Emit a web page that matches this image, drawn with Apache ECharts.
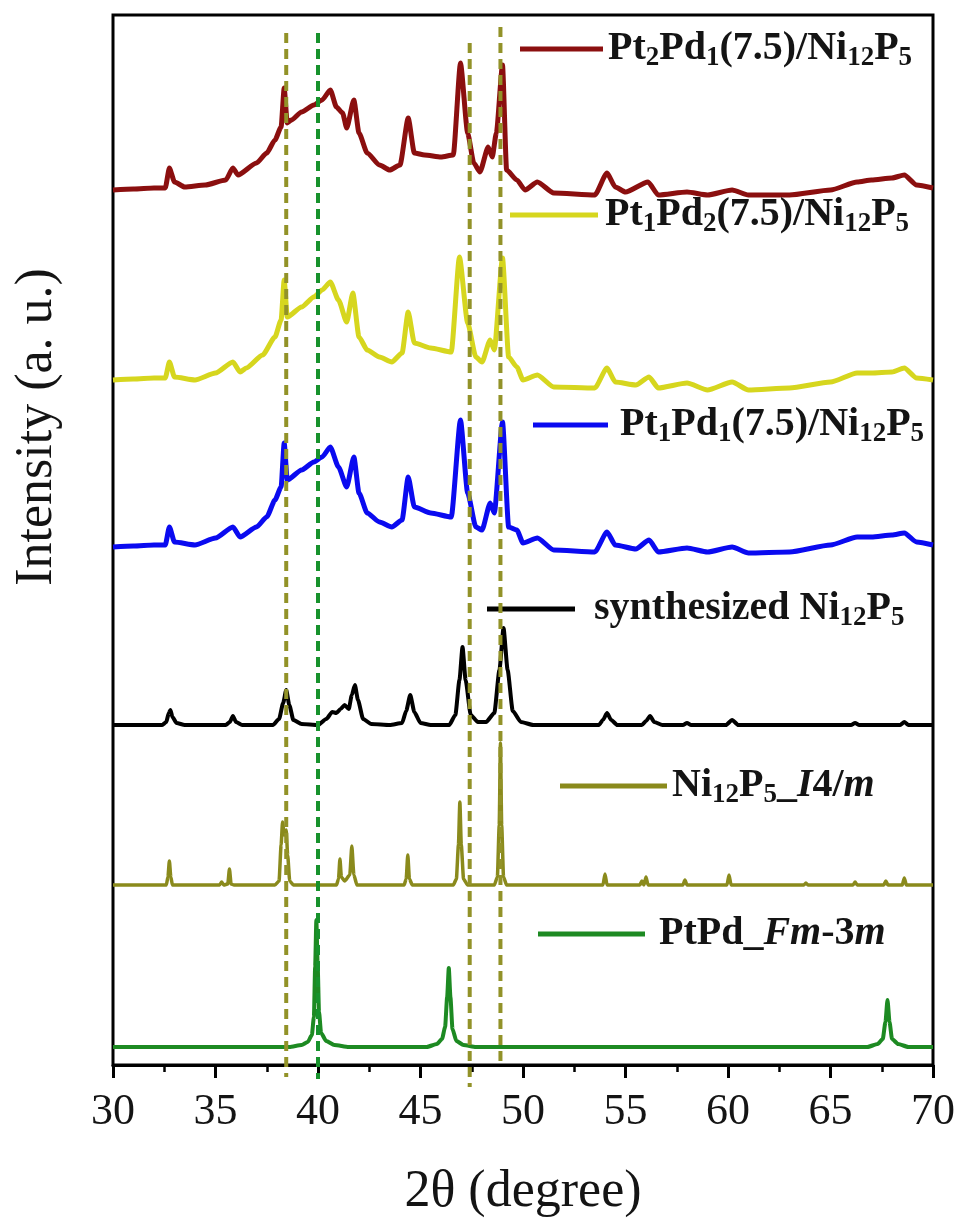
<!DOCTYPE html>
<html>
<head>
<meta charset="utf-8">
<script src="https://cdn.jsdelivr.net/npm/echarts@6/dist/echarts.min.js"></script>
<style>html,body{margin:0;padding:0;background:#fff}#c{width:965px;height:1231px}</style>
</head>
<body>
<div id="c"></div>
<script>
// ---- data (2θ in degree, intensity in a.u. relative to each pattern's own baseline) ----
const seriesNames = [
  'Pt2Pd1(7.5)/Ni12P5',
  'Pt1Pd2(7.5)/Ni12P5',
  'Pt1Pd1(7.5)/Ni12P5',
  'synthesized Ni12P5',
  'Ni12P5_I4/m',
  'PtPd_Fm-3m'
];
const seriesColors = ['#8b0f0f', '#d6d61e', '#0a0af0', '#000000', '#8a8a1c', '#1d8a22'];
const seriesWidths = [5, 5, 5, 4, 3.5, 4];
// vertical stacking offsets of the patterns (a.u.)
const offsets = [875, 685, 518, 340, 180, 18];

const pt2pd1 = [
  [30,0],[31,1],[32,2],[32.55,2],[32.75,22],[33.0,8],[33.5,3],[34.5,5],[35.5,10],[35.85,22],[36.1,15],
  [37.0,27],[37.5,37],[37.9,50],[38.2,63],[38.35,102],[38.5,67],[38.7,70],[39.2,78],[39.8,85],[40.2,90],
  [40.6,100],[40.9,83],[41.2,77],[41.4,62],[41.75,90],[42.0,57],[42.4,37],[43.0,25],[43.5,20],[44.0,25],
  [44.4,72],[44.7,37],[45.2,35],[46.0,33],[46.6,35],[46.95,127],[47.3,57],[47.6,27],[47.9,18],[48.3,43],
  [48.5,33],[48.7,57],[49.0,125],[49.2,20],[49.7,10],[50.1,0],[50.7,8],[51.5,-3],[53.5,-5],[54.1,17],
  [54.5,3],[55.0,-2],[56.1,8],[56.6,-5],[58.0,-2],[59.0,-5],[60.2,0],[61.0,-5],[63.0,-5],[65.0,0],
  [66.3,8],[67.0,10],[68.0,12],[68.6,15],[69.2,5],[70,2]
];
const pt1pd2 = [
  [30,0],[31,1],[32,2],[32.55,2],[32.75,18],[33.0,3],[34.0,0],[35.0,7],[35.85,18],[36.2,8],[36.5,12],
  [37.3,25],[37.9,43],[38.2,60],[38.35,100],[38.5,63],[39.2,73],[39.8,83],[40.2,90],[40.6,98],[41.0,80],
  [41.4,58],[41.7,87],[42.0,43],[42.4,30],[43.0,23],[43.6,18],[44.1,27],[44.4,68],[44.7,37],[45.5,32],
  [46.5,28],[46.9,123],[47.3,57],[47.7,23],[48.0,18],[48.4,40],[48.6,30],[49.0,122],[49.3,23],[49.7,13],
  [50.0,0],[50.7,5],[51.5,-7],[53.5,-8],[54.1,12],[54.5,-2],[55.5,-5],[56.15,3],[56.6,-8],[58.0,-3],
  [59.0,-10],[60.2,-2],[61.0,-10],[63.0,-8],[65.0,-2],[66.3,7],[67.0,7],[68.0,8],[68.6,12],[69.2,2],[70,0]
];
const pt1pd1 = [
  [30,0],[31,1],[32,2],[32.55,2],[32.75,20],[33.0,5],[34.0,2],[35.0,9],[35.85,20],[36.2,10],[37.0,20],
  [37.5,30],[37.9,47],[38.2,60],[38.35,104],[38.5,67],[39.2,77],[39.8,85],[40.2,90],[40.6,100],[41.0,80],
  [41.4,60],[41.75,90],[42.0,54],[42.4,34],[43.0,25],[43.6,20],[44.1,27],[44.4,70],[44.7,40],[45.5,34],
  [46.5,30],[46.95,127],[47.3,54],[47.7,20],[48.0,17],[48.4,44],[48.6,34],[49.0,125],[49.3,20],[49.7,17],
  [50.0,4],[50.7,9],[51.5,-3],[53.5,-5],[54.1,15],[54.5,2],[55.5,-2],[56.15,7],[56.6,-5],[58.0,-1],
  [59.0,-5],[60.2,0],[61.0,-6],[63.0,-5],[65.0,2],[66.3,10],[67.0,10],[68.0,12],[68.6,14],[69.2,5],[70,2]
];
const ni12p5Synth = [
  [30,0],[32.4,0],[32.6,3],[32.72,12],[32.8,15],[32.9,8],[33.1,2],[33.5,0],
  [35.5,0],[35.7,3],[35.85,9],[36.0,3],[36.3,0],
  [37.8,0],[38.1,6],[38.3,22],[38.45,35],[38.6,20],[38.8,5],[39.2,1],[40.0,0],
  [40.4,6],[40.7,13],[40.9,12],[41.1,16],[41.3,20],[41.5,16],[41.65,30],[41.8,40],[41.95,25],[42.2,6],[42.6,1],[43.5,0],
  [44.1,2],[44.3,14],[44.5,30],[44.7,13],[45.0,2],[45.5,0],
  [46.4,0],[46.7,10],[46.9,45],[47.05,78],[47.2,45],[47.45,10],[47.8,3],[48.2,3],
  [48.6,12],[48.85,55],[49.05,97],[49.25,55],[49.5,14],[49.9,3],[50.5,0],
  [53.7,0],[53.9,5],[54.1,12],[54.3,5],[54.6,0],[55.8,0],[56.0,4],[56.2,9],[56.4,3],[56.8,0],
  [57.8,0],[58.0,2],[58.2,0],[59.9,0],[60.2,5],[60.5,0],[66.0,0],[66.2,2],[66.4,0],[68.4,0],[68.6,3],[68.8,0],[70,0]
];
const ni12p5Ref = [
  [30,0],[32.6,0],[32.68,8],[32.75,24],[32.82,8],[32.9,0],
  [35.2,0],[35.3,3],[35.4,0],[35.6,1],[35.68,16],[35.76,1],[35.9,0],
  [37.9,0],[38.1,4],[38.2,40],[38.27,63],[38.35,50],[38.45,55],[38.52,30],[38.62,4],[38.8,0],
  [40.9,0],[41.0,6],[41.07,26],[41.14,8],[41.3,4],[41.55,10],[41.65,39],[41.75,10],[41.9,0],
  [44.2,0],[44.3,6],[44.38,30],[44.46,6],[44.6,0],
  [46.6,0],[46.75,6],[46.85,40],[46.92,83],[46.99,40],[47.1,6],[47.3,0],
  [48.6,0],[48.75,8],[48.84,60],[48.9,142],[48.96,60],[49.05,8],[49.2,0],
  [53.9,0],[54.0,11],[54.1,0],[55.7,0],[55.8,4],[55.9,0],[56.0,8],[56.1,0],[57.8,0],[57.9,5],[58.0,0],
  [59.95,0],[60.05,10],[60.15,0],[63.7,0],[63.8,2],[63.9,0],[66.1,0],[66.2,3],[66.3,0],
  [67.6,0],[67.7,4],[67.8,0],[68.5,0],[68.6,7],[68.7,0],[70,0]
];
const ptpdRef = [
  [30,0],[38.6,0],[39.2,2],[39.5,5],[39.7,12],[39.8,30],[39.86,80],[39.92,127],[39.98,85],[40.05,35],
  [40.15,14],[40.4,6],[40.8,2],[41.5,0],
  [45.3,0],[45.8,3],[46.05,8],[46.2,20],[46.3,50],[46.38,79],[46.46,50],[46.56,18],[46.75,6],[47.1,2],[47.7,0],
  [66.8,0],[67.3,3],[67.55,8],[67.68,25],[67.78,47],[67.88,25],[68.0,8],[68.3,3],[68.8,0],[70,0]
];
const patterns = [pt2pd1, pt1pd2, pt1pd1, ni12p5Synth, ni12p5Ref, ptpdRef];

// reference positions (2θ, top, bottom) for the dashed guide lines
const guideLines = [[38.45, 1032, -12], [40.0, 1032, -14], [47.4, 1022, -22], [48.9, 1038, -2]];
const guideColors = ['#929228', '#17922c', '#929228', '#929228'];

const xTicks = [30, 35, 40, 45, 50, 55, 60, 65, 70];

// legend labels with sub-/italic markup
const legendLabels = {
  'Pt2Pd1(7.5)/Ni12P5': '{g| }{m|Pt}{s|2}{m|Pd}{s|1}{m|(7.5)/Ni}{s|12}{m|P}{s|5}',
  'Pt1Pd2(7.5)/Ni12P5': '{g| }{m|Pt}{s|1}{m|Pd}{s|2}{m|(7.5)/Ni}{s|12}{m|P}{s|5}',
  'Pt1Pd1(7.5)/Ni12P5': '{g| }{m|Pt}{s|1}{m|Pd}{s|1}{m|(7.5)/Ni}{s|12}{m|P}{s|5}',
  'synthesized Ni12P5': '{g| }{m|synthesized Ni}{s|12}{m|P}{s|5}',
  'Ni12P5_I4/m': '{g| }{m|Ni}{s|12}{m|P}{s|5}{m|_}{i|I}{m|4/}{i|m}',
  'PtPd_Fm-3m': '{g| }{m|PtPd_}{i|Fm}{m|-3}{i|m}'
};

// ---- chart ----
const FONT = '"Liberation Serif", "Times New Roman", serif';
const chart = echarts.init(document.getElementById('c'), null, {renderer: 'canvas'});

const legendPos = [
  {left: 520, mid: 52, w: 83, gap: 0},
  {left: 510, mid: 218, w: 88, gap: 2},
  {left: 533, mid: 428, w: 75, gap: 7},
  {left: 487, mid: 612, w: 88, gap: 14},
  {left: 560, mid: 789, w: 107, gap: 0},
  {left: 538, mid: 937, w: 107, gap: 9}
];
const LH = 46;
const legends = seriesNames.map((n, i) => ({
  data: [n],
  left: legendPos[i].left,
  top: legendPos[i].mid - LH / 2,
  padding: 0,
  orient: 'horizontal',
  icon: 'rect',
  itemWidth: legendPos[i].w,
  itemHeight: 5,
  selectedMode: false,
  formatter: name => legendLabels[name],
  textStyle: {
    color: '#141414',
    rich: {
      g: {width: legendPos[i].gap, fontSize: 10, lineHeight: LH},
      m: {fontFamily: FONT, fontWeight: 'bold', fontSize: 40, lineHeight: LH, color: '#141414'},
      i: {fontFamily: FONT, fontWeight: 'bold', fontStyle: 'italic', fontSize: 40, lineHeight: LH, color: '#141414'},
      s: {fontFamily: FONT, fontWeight: 'bold', fontSize: 27, lineHeight: 32, verticalAlign: 'bottom', color: '#141414'}
    }
  }
}));

const lineSeries = seriesNames.map((n, i) => ({
  name: n,
  type: 'line',
  data: patterns[i].map(p => [p[0], p[1] + offsets[i]]),
  showSymbol: false,
  symbol: 'none',
  smooth: 0.2,
  smoothMonotone: 'x',
  color: seriesColors[i],
  lineStyle: {color: seriesColors[i], width: seriesWidths[i], join: 'round'},
  z: 3 + i,
  silent: true,
  animation: false
}));

const guideSeries = {
  type: 'custom',
  data: guideLines,
  encode: {x: 0, y: [1, 2]},
  silent: true,
  animation: false,
  z: 20,
  renderItem: (params, api) => {
    const x = api.value(0);
    const p1 = api.coord([x, api.value(1)]);
    const p2 = api.coord([x, api.value(2)]);
    return {
      type: 'line',
      shape: {x1: p1[0], y1: p1[1], x2: p2[0], y2: p2[1]},
      style: {stroke: guideColors[params.dataIndex], lineWidth: 4, lineDash: [10, 6], fill: null}
    };
  }
};

chart.setOption({
  backgroundColor: '#ffffff',
  animation: false,
  grid: {left: 113, right: 32, top: 15, bottom: 166, show: true, borderColor: '#000', borderWidth: 3, backgroundColor: 'transparent'},
  legend: legends,
  xAxis: {
    type: 'value',
    min: xTicks[0],
    max: xTicks[xTicks.length - 1],
    interval: 5,
    name: '2θ (degree)',
    nameLocation: 'middle',
    nameGap: 101,
    nameTextStyle: {fontFamily: FONT, fontSize: 52, color: '#141414'},
    axisLine: {show: true, lineStyle: {color: '#000', width: 3}},
    axisTick: {show: true, inside: false, length: 13, lineStyle: {color: '#000', width: 3}},
    minorTick: {show: true, splitNumber: 2, length: 7, lineStyle: {color: '#000', width: 2.5}},
    axisLabel: {fontFamily: FONT, fontSize: 44, color: '#141414', margin: 25},
    splitLine: {show: false}
  },
  yAxis: {
    type: 'value',
    min: 0,
    max: 1050,
    axisLine: {show: false},
    axisTick: {show: false},
    axisLabel: {show: false},
    splitLine: {show: false}
  },
  graphic: [{
    type: 'text',
    x: 37,
    y: 427,
    rotation: Math.PI / 2,
    style: {text: 'Intensity (a. u.)', font: '52px ' + FONT, fill: '#141414', align: 'center', verticalAlign: 'middle'}
  }],
  series: lineSeries.concat([guideSeries])
});
</script>
</body>
</html>
